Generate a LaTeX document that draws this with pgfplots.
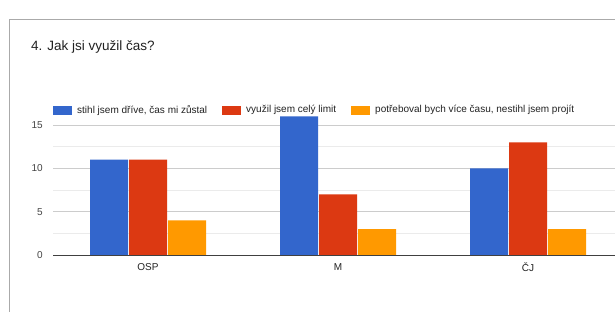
\documentclass[border=0pt]{standalone}
\usepackage{pgfplots}
\pgfplotsset{compat=1.18}
\usepackage{fontspec}
\setmainfont{Liberation Sans}
\definecolor{gblue}{HTML}{3366CC}
\definecolor{gred}{HTML}{DC3912}
\definecolor{gorange}{HTML}{FF9900}
\definecolor{gridmaj}{HTML}{CCCCCC}
\definecolor{gridmin}{HTML}{EBEBEB}
\definecolor{labelc}{HTML}{444444}
\definecolor{legc}{HTML}{222222}
\definecolor{cardb}{HTML}{AAAAAA}
\begin{document}
\begin{tikzpicture}
\useasboundingbox (0pt,0pt) rectangle (615pt,311pt);
\fill[white] (0pt,0pt) rectangle (615pt,311pt);
\clip (0pt,0pt) rectangle (615pt,311pt);
\draw[cardb, line width=1.6pt] (9.5pt,-2pt) -- (9.5pt,291.5pt) -- (620pt,291.5pt);
\node[anchor=base west, inner sep=0pt, font=\fontsize{13.5}{16}\selectfont, text=black!87] at (31pt,260pt) {4. Jak jsi využil čas?};
\begin{axis}[
  at={(53pt,56pt)}, anchor=south west,
  scale only axis, width=570pt, height=151.67pt,
  ybar=1pt, bar width=38pt,
  xmin=-0.5, xmax=2.5, ymin=0, ymax=17.5,
  xtick={0,1,2}, xticklabels={OSP,M,ČJ},
  ytick={0,5,10,15}, minor ytick={2.5,7.5,12.5},
  ymajorgrids, yminorgrids,
  major grid style={gridmaj, line width=0.8pt},
  minor grid style={gridmin, line width=0.8pt},
  axis line style={draw=none},
  tick style={draw=none},
  major tick length=0pt, minor tick length=0pt,
  /pgf/number format/assume math mode=true,
  yticklabel style={font=\fontsize{10}{12}\selectfont, text=labelc, anchor=east, inner sep=0pt, xshift=-10pt},
  xticklabel style={font=\fontsize{10}{12}\selectfont, text=legc, anchor=north, inner sep=0pt, yshift=-8pt},
  legend columns=3,
  legend image code/.code={\fill[#1] (0pt,-4.5pt) rectangle (19pt,4.5pt);},
  legend style={at={(0,0.956)}, anchor=west, draw=none, fill=none, inner sep=0pt,
    font=\fontsize{10}{12}\selectfont, text=legc,
    nodes={inner sep=0pt, inner xsep=5pt},
    /tikz/every even column/.append style={column sep=10pt}},
]
\addplot[fill=gblue, draw=none] coordinates {(0,11) (1,16) (2,10)};
\addlegendentry{stihl jsem dříve, čas mi zůstal}
\addplot[fill=gred, draw=none] coordinates {(0,11) (1,7) (2,13)};
\addlegendentry{využil jsem celý limit}
\addplot[fill=gorange, draw=none] coordinates {(0,4) (1,3) (2,3)};
\addlegendentry{potřeboval bych více času, nestihl jsem projít}
\draw[black!75, line width=1pt] (rel axis cs:0,0) -- (rel axis cs:1,0);
\end{axis}
\end{tikzpicture}
\end{document}
